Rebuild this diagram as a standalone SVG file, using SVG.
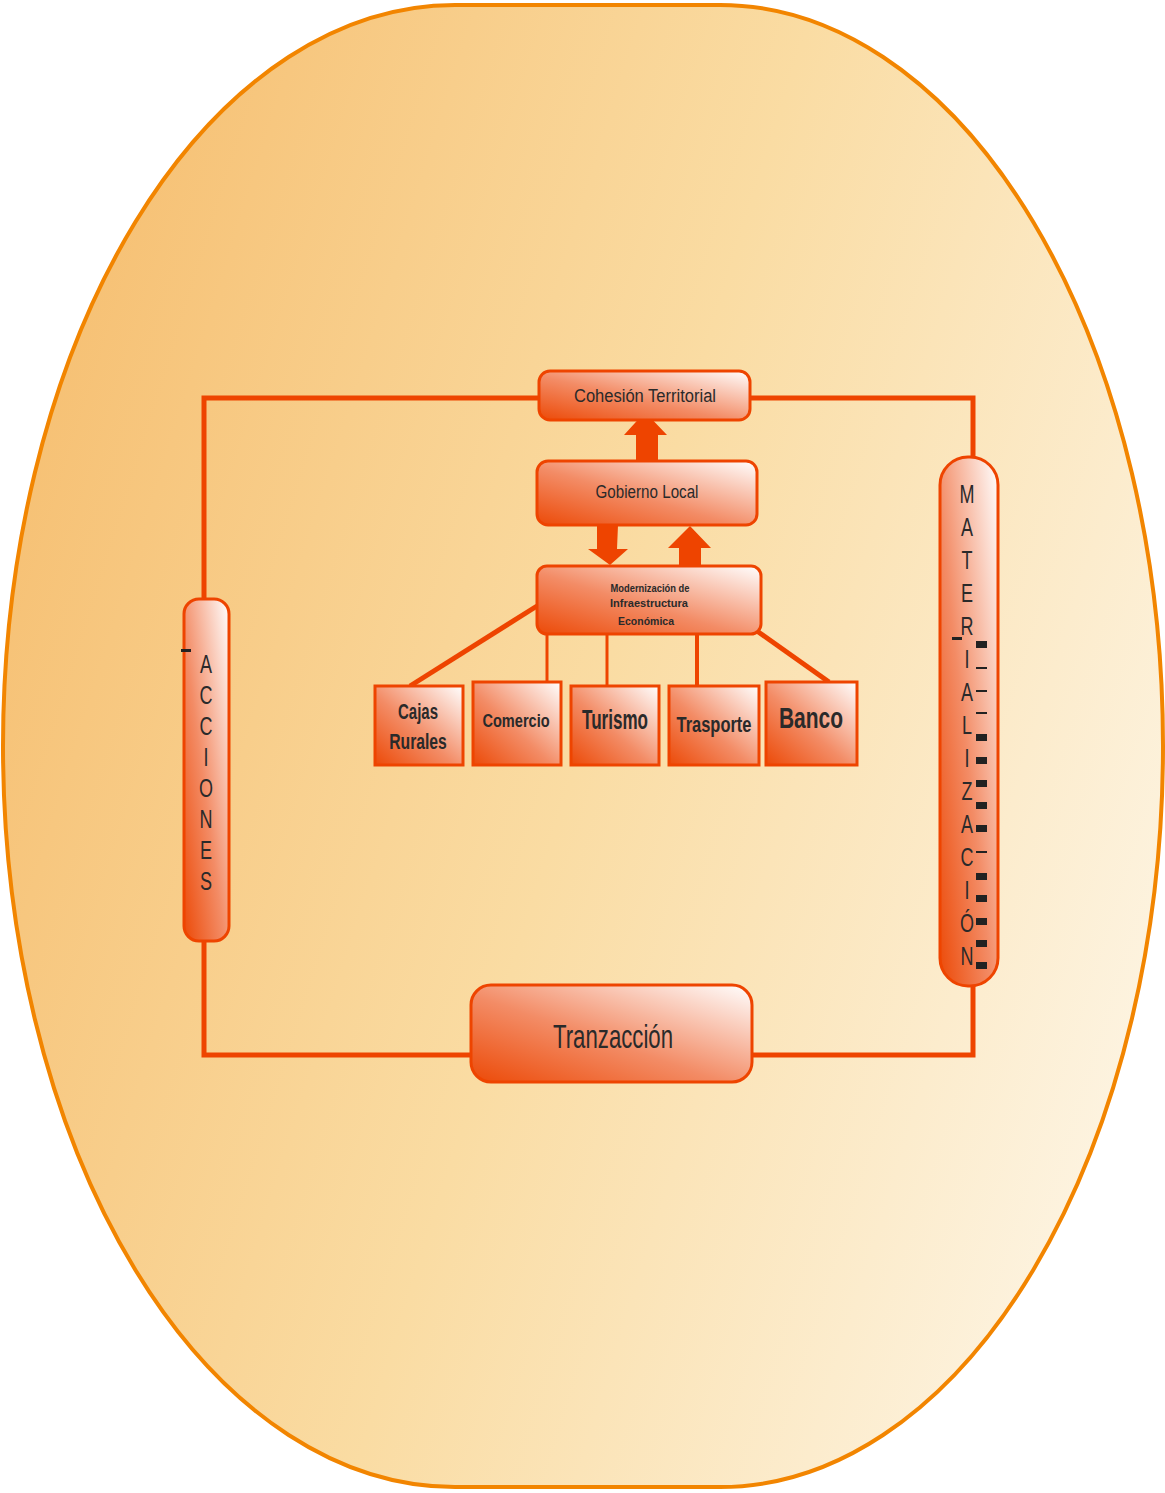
<svg xmlns="http://www.w3.org/2000/svg" width="1165" height="1493" viewBox="0 0 1165 1493">
<defs>
<linearGradient id="bg" x1="0" y1="0.3" x2="1" y2="0.7">
<stop offset="0" stop-color="#F6C073"/>
<stop offset="0.5" stop-color="#FADCA3"/>
<stop offset="1" stop-color="#FDF4E2"/>
</linearGradient>
<linearGradient id="box" x1="0" y1="1" x2="1" y2="0">
<stop offset="0" stop-color="#EC4A08"/>
<stop offset="0.45" stop-color="#F38C66"/>
<stop offset="1" stop-color="#FFFFFF"/>
</linearGradient>
<style>
.node{fill:url(#box);stroke:#EE4400;stroke-width:3}
.lk{stroke:#EE4400;fill:none}
.arr{fill:#EE4400}
.t{font-family:"Liberation Sans Narrow","Liberation Sans",Arial,sans-serif;fill:#2a2a2a}
.b{font-weight:bold}
.v{font-family:"Liberation Sans Narrow","Liberation Sans",Arial,sans-serif;fill:#2a2a2a;font-size:25px;text-anchor:middle}
.dk{fill:#222}
</style>
</defs>
<path id="outer" d="M455,5 L720,5 A443,741 0 0 1 1163,746 A443,741 0 0 1 720,1487 L455,1487 A452,741 0 0 1 3,746 A452,741 0 0 1 455,5 Z" fill="url(#bg)" stroke="#F28500" stroke-width="4"/>
<g id="connectors">
<rect x="204" y="398" width="769" height="657" class="lk" stroke-width="5"/>
<line x1="537" y1="606" x2="410" y2="686" class="lk" stroke-width="5"/>
<line x1="547" y1="633" x2="547" y2="682" class="lk" stroke-width="3"/>
<line x1="607" y1="633" x2="607" y2="685" class="lk" stroke-width="3"/>
<line x1="697" y1="633" x2="697" y2="685" class="lk" stroke-width="4"/>
<line x1="757" y1="631" x2="829" y2="682" class="lk" stroke-width="5"/>
<polygon class="arr" points="636,461 636,435 624,435 645,412 667,435 658,435 658,461"/>
<polygon class="arr" points="597,525 618,525 617,549 628,549 610,565 588,549 597,549"/>
<polygon class="arr" points="679,566 679,548 668,548 690,526 711,548 701,548 701,566"/>
</g>
<g id="cohesion">
<rect class="node" x="539" y="371" width="211" height="49" rx="11"/>
<text class="t" x="645" y="402" font-size="18" text-anchor="middle" textLength="142" lengthAdjust="spacingAndGlyphs">Cohesión Territorial</text>
</g>
<g id="gobierno">
<rect class="node" x="537" y="461" width="220" height="64" rx="11"/>
<text class="t" x="647" y="498" font-size="18" text-anchor="middle" textLength="103" lengthAdjust="spacingAndGlyphs">Gobierno Local</text>
</g>
<g id="infra">
<rect class="node" x="537" y="566" width="224" height="68" rx="10"/>
<text class="t b" x="650" y="592" font-size="11" text-anchor="middle" textLength="79" lengthAdjust="spacingAndGlyphs">Modernización de</text>
<text class="t b" x="649" y="607" font-size="11" text-anchor="middle" textLength="78" lengthAdjust="spacingAndGlyphs">Infraestructura</text>
<text class="t b" x="646" y="625" font-size="11" text-anchor="middle" textLength="56" lengthAdjust="spacingAndGlyphs">Económica</text>
</g>
<g id="cajas">
<rect class="node" x="375" y="686" width="88" height="79"/>
<text class="t b" transform="translate(418 719) scale(0.8 1)" font-size="22" text-anchor="middle" textLength="50" lengthAdjust="spacingAndGlyphs">Cajas</text>
<text class="t b" transform="translate(418 749) scale(0.8 1)" font-size="22" text-anchor="middle" textLength="72" lengthAdjust="spacingAndGlyphs">Rurales</text>
</g>
<g id="comercio">
<rect class="node" x="473" y="682" width="88" height="83"/>
<text class="t b" transform="translate(516 727) scale(0.8 1)" font-size="19" text-anchor="middle" textLength="84" lengthAdjust="spacingAndGlyphs">Comercio</text>
</g>
<g id="turismo">
<rect class="node" x="571" y="686" width="88" height="79"/>
<text class="t b" transform="translate(615 729) scale(0.75 1)" font-size="28" text-anchor="middle" textLength="88" lengthAdjust="spacingAndGlyphs">Turismo</text>
</g>
<g id="trasporte">
<rect class="node" x="669" y="686" width="90" height="79"/>
<text class="t b" transform="translate(714 732) scale(0.75 1)" font-size="22" text-anchor="middle" textLength="100" lengthAdjust="spacingAndGlyphs">Trasporte</text>
</g>
<g id="banco">
<rect class="node" x="766" y="682" width="91" height="83"/>
<text class="t b" transform="translate(811 728) scale(0.8 1)" font-size="29" text-anchor="middle" textLength="80" lengthAdjust="spacingAndGlyphs">Banco</text>
</g>
<g id="acciones">
<rect class="node" x="184" y="599" width="45" height="342" rx="15"/>
<rect class="dk" x="181" y="649" width="10" height="3"/>
<g transform="translate(206 0) scale(0.72 1)">
<text class="v" x="0" y="673">A</text>
<text class="v" x="0" y="704">C</text>
<text class="v" x="0" y="735">C</text>
<text class="v" x="0" y="766">I</text>
<text class="v" x="0" y="797">O</text>
<text class="v" x="0" y="828">N</text>
<text class="v" x="0" y="859">E</text>
<text class="v" x="0" y="890">S</text>
</g>
</g>
<g id="materializacion">
<rect class="node" x="940" y="457" width="58" height="529" rx="28"/>
<g transform="translate(967 0) scale(0.72 1)">
<text class="v" x="0" y="503">M</text>
<text class="v" x="0" y="536">A</text>
<text class="v" x="0" y="569">T</text>
<text class="v" x="0" y="602">E</text>
<text class="v" x="0" y="635">R</text>
<text class="v" x="0" y="668">I</text>
<text class="v" x="0" y="701">A</text>
<text class="v" x="0" y="734">L</text>
<text class="v" x="0" y="767">I</text>
<text class="v" x="0" y="800">Z</text>
<text class="v" x="0" y="833">A</text>
<text class="v" x="0" y="866">C</text>
<text class="v" x="0" y="899">I</text>
<text class="v" x="0" y="932">Ó</text>
<text class="v" x="0" y="965">N</text>
</g>
<rect class="dk" x="952" y="637" width="10" height="3"/>
<rect class="dk" x="976" y="641" width="11" height="7"/>
<rect class="dk" x="976" y="667" width="11" height="2"/>
<rect class="dk" x="976" y="690" width="11" height="2"/>
<rect class="dk" x="976" y="712" width="11" height="2"/>
<rect class="dk" x="976" y="734" width="11" height="7"/>
<rect class="dk" x="976" y="757" width="11" height="7"/>
<rect class="dk" x="976" y="780" width="11" height="7"/>
<rect class="dk" x="976" y="802" width="11" height="7"/>
<rect class="dk" x="976" y="825" width="11" height="7"/>
<rect class="dk" x="976" y="851" width="11" height="2"/>
<rect class="dk" x="976" y="873" width="11" height="7"/>
<rect class="dk" x="976" y="895" width="11" height="7"/>
<rect class="dk" x="976" y="918" width="11" height="7"/>
<rect class="dk" x="976" y="940" width="11" height="7"/>
<rect class="dk" x="976" y="962" width="11" height="7"/>
</g>
<g id="tranzaccion">
<rect class="node" x="471" y="985" width="281" height="97" rx="20"/>
<text class="t" x="613" y="1048" font-size="34" text-anchor="middle" textLength="120" lengthAdjust="spacingAndGlyphs">Tranzacción</text>
</g>
</svg>
